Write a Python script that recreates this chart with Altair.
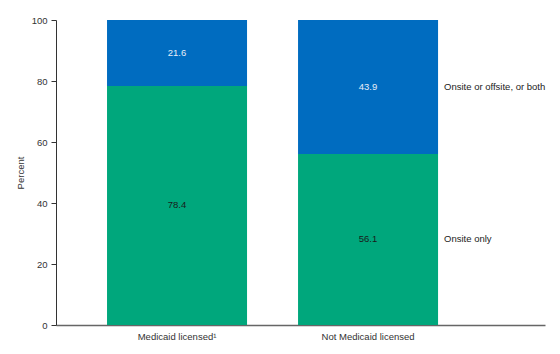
import altair as alt
import pandas as pd

categories = ["Medicaid licensed\u00b9", "Not Medicaid licensed"]
series = ["Onsite only", "Onsite or offsite, or both"]
onsite_only = [78.4, 56.1]
onsite_or_offsite = [21.6, 43.9]

rows = []
for i, c in enumerate(categories):
    rows.append({"cat": c, "series": series[0], "value": onsite_only[i], "order": 0,
                 "start": 0, "end": onsite_only[i]})
    rows.append({"cat": c, "series": series[1], "value": onsite_or_offsite[i], "order": 1,
                 "start": onsite_only[i], "end": onsite_only[i] + onsite_or_offsite[i]})
df = pd.DataFrame(rows)
df["mid"] = (df["start"] + df["end"]) / 2
df["label"] = df["value"].map(lambda v: f"{v:.1f}")
df["textcolor"] = df["order"].map({0: "dark", 1: "light"})

FONT = "Liberation Sans"
FS = 9.5
green = "#00A77C"
blue = "#006CC0"

xscale = alt.Scale(domain=categories, paddingInner=0.267, paddingOuter=0.4135, align=0.323)
x = alt.X("cat:N", scale=xscale, sort=categories,
          axis=alt.Axis(title=None, labelAngle=0, ticks=False, labelPadding=6,
                        labelFontSize=FS, labelColor="#333333", labelFont=FONT,
                        domainColor="#666666", domainWidth=1.5))
yscale = alt.Scale(domain=[0, 100])

base = alt.Chart(df)

bars = base.mark_bar().encode(
    x=x,
    y=alt.Y("start:Q", scale=yscale,
            axis=alt.Axis(title="Percent", values=[0, 20, 40, 60, 80, 100], grid=False,
                          tickSize=5, tickColor="#333333", domainColor="#333333",
                          labelFontSize=FS, labelColor="#333333", labelFont=FONT,
                          titleFontSize=FS, titleFont=FONT, titleColor="#333333",
                          titleFontWeight="normal", titlePadding=6, labelPadding=4)),
    y2="end:Q",
    color=alt.Color("series:N", scale=alt.Scale(domain=series, range=[green, blue]), legend=None),
)

labels = base.mark_text(font=FONT, fontSize=FS).encode(
    x=alt.X("cat:N", scale=xscale, sort=categories),
    y=alt.Y("mid:Q", scale=yscale),
    text="label:N",
    color=alt.Color("textcolor:N", scale=alt.Scale(domain=["dark", "light"], range=["#1a1a1a", "#e8eef8"]), legend=None),
)

side = base.transform_filter(alt.datum.cat == categories[1]).mark_text(
    font=FONT, fontSize=FS, align="left", dx=76, color="#222222"
).encode(
    x=alt.X("cat:N", scale=xscale, sort=categories),
    y=alt.Y("mid:Q", scale=yscale),
    text="series:N",
)

chart = alt.layer(bars, labels, side).properties(
    width=489, height=305,
    autosize=alt.AutoSizeParams(type="none"),
    padding={"left": 56, "top": 20, "right": 15, "bottom": 29},
).resolve_scale(color="independent").configure_view(stroke=None)

chart.save("out.html", embed_options={"renderer": "svg", "actions": False})
